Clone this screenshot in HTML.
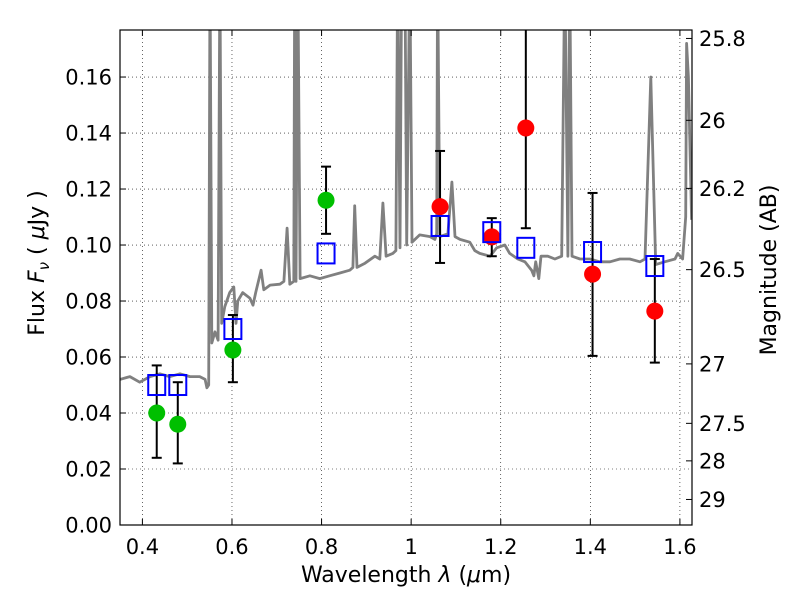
<!DOCTYPE html>
<html><head><meta charset="utf-8">
<style>
html,body{margin:0;padding:0;background:#fff;}
svg{display:block;font-family:"DejaVu Sans","Liberation Sans",sans-serif;}
</style></head>
<body>
<svg id="chart" width="800" height="600" viewBox="0 0 800 600" xmlns="http://www.w3.org/2000/svg"></svg>
<script>
// ---- data ----
const specWave=[0.35,0.372,0.394,0.417,0.439,0.461,0.484,0.506,0.528,0.540,0.544,0.548,0.551,0.555,0.562,0.569,0.573,0.577,0.584,0.595,0.604,0.609,0.613,0.624,0.640,0.647,0.653,0.665,0.671,0.685,0.707,0.716,0.723,0.729,0.738,0.740,0.743,0.747,0.752,0.774,0.796,0.818,0.841,0.863,0.870,0.874,0.879,0.897,0.919,0.930,0.937,0.944,0.959,0.966,0.970,0.975,0.979,0.986,0.990,0.997,1.002,1.019,1.042,1.053,1.057,1.059,1.064,1.082,1.091,1.098,1.109,1.131,1.142,1.153,1.176,1.191,1.209,1.220,1.238,1.254,1.269,1.274,1.278,1.285,1.290,1.305,1.321,1.336,1.343,1.350,1.354,1.359,1.377,1.399,1.421,1.444,1.466,1.488,1.511,1.522,1.535,1.546,1.566,1.589,1.595,1.606,1.613,1.615,1.619,1.626];
const specFlux=[0.052,0.053,0.051,0.053,0.054,0.053,0.054,0.053,0.053,0.052,0.049,0.050,0.2,0.065,0.069,0.066,0.2,0.072,0.078,0.083,0.085,0.072,0.080,0.083,0.081,0.0785,0.083,0.091,0.084,0.0857,0.086,0.087,0.106,0.086,0.087,0.2,0.087,0.2,0.088,0.089,0.088,0.089,0.090,0.091,0.092,0.114,0.092,0.0935,0.096,0.095,0.115,0.096,0.097,0.098,0.2,0.099,0.2,0.2,0.100,0.2,0.101,0.1036,0.103,0.102,0.104,0.2,0.103,0.104,0.1225,0.103,0.102,0.101,0.098,0.097,0.096,0.099,0.100,0.097,0.095,0.094,0.091,0.089,0.094,0.088,0.096,0.096,0.095,0.096,0.2,0.096,0.2,0.096,0.095,0.095,0.094,0.094,0.095,0.095,0.094,0.095,0.16,0.093,0.094,0.095,0.097,0.095,0.11,0.172,0.16,0.109];
const greenWave=[0.432,0.479,0.602,0.81];
const greenFlux=[0.040,0.036,0.0625,0.116];
const greenLo=[0.024,0.022,0.051,0.104];
const greenHi=[0.057,0.051,0.075,0.128];
const redWave=[1.0645,1.18,1.256,1.405,1.544];
const redFlux=[0.1137,0.1029,0.1418,0.0896,0.0764];
const redLo=[0.0936,0.096,0.106,0.0604,0.058];
const redHi=[0.1336,0.1096,0.19,0.1186,0.095];
const modelWave=[0.432,0.479,0.602,0.81,1.0645,1.18,1.256,1.405,1.544];
const modelFlux=[0.050,0.050,0.070,0.097,0.1068,0.1046,0.099,0.0975,0.0925];
const xTicks=[0.4,0.6,0.8,1.0,1.2,1.4,1.6];
const xTickLabels=["0.4","0.6","0.8","1","1.2","1.4","1.6"];
const yTicks=[0,0.02,0.04,0.06,0.08,0.10,0.12,0.14,0.16];
const yTickLabels=["0.00","0.02","0.04","0.06","0.08","0.10","0.12","0.14","0.16"];
const magTicks=[25.8,26,26.2,26.5,27,27.5,28,29];
const magTickLabels=["25.8","26","26.2","26.5","27","27.5","28","29"];

// ---- layout ----
const L=120,R=692,T=30,B=525;
const xMin=0.35,xMax=1.627,yMin=0,yMax=0.1768;
const X=v=>L+(v-xMin)/(xMax-xMin)*(R-L);
const Y=v=>B-(v-yMin)/(yMax-yMin)*(B-T);
const magToFlux=m=>Math.pow(10,(23.9-m)/2.5);
const NS="http://www.w3.org/2000/svg";
const svg=document.getElementById('chart');
function mk(tag,attrs,parent){const e=document.createElementNS(NS,tag);for(const k in attrs)e.setAttribute(k,attrs[k]);(parent||svg).appendChild(e);return e;}

const defs=mk('defs',{});
const cp=mk('clipPath',{id:'clip'},defs);
mk('rect',{x:L,y:T,width:R-L,height:B-T},cp);

// grid
const grid=mk('g',{});


xTicks.forEach(v=>{mk('line',{x1:X(v),x2:X(v),y1:T,y2:B,stroke:'#000','stroke-width':0.6,'stroke-dasharray':'1,3'},grid);});
yTicks.forEach(v=>{mk('line',{x1:L,x2:R,y1:Y(v),y2:Y(v),stroke:'#000','stroke-width':0.6,'stroke-dasharray':'1,3'},grid);});

const plot=mk('g',{'clip-path':'url(#clip)'});
// spectrum
let d='';
specWave.forEach((w,i)=>{d+=(i?'L':'M')+X(w).toFixed(1)+','+Y(specFlux[i]).toFixed(1);});
const spec=mk('path',{d:d,fill:'none',stroke:'#808080','stroke-width':2.8,'stroke-linejoin':'round'},plot);



function errbar(w,lo,hi,name){
  const g=mk('g',{},plot);
  
  
  const x=X(w);
  mk('line',{x1:x,x2:x,y1:Y(lo),y2:Y(hi),stroke:'#000','stroke-width':2},g);
  mk('line',{x1:x-5,x2:x+5,y1:Y(lo),y2:Y(lo),stroke:'#000','stroke-width':2},g);
  mk('line',{x1:x-5,x2:x+5,y1:Y(hi),y2:Y(hi),stroke:'#000','stroke-width':2},g);
}
greenWave.forEach((w,i)=>errbar(w,greenLo[i],greenHi[i],'green-errorbar'));
redWave.forEach((w,i)=>errbar(w,redLo[i],redHi[i],'red-errorbar'));
greenWave.forEach((w,i)=>{
  const c=mk('circle',{cx:X(w),cy:Y(greenFlux[i]),r:8.5,fill:'#00bf00'},plot);
  
  
});
redWave.forEach((w,i)=>{
  const c=mk('circle',{cx:X(w),cy:Y(redFlux[i]),r:8.5,fill:'#ff0000'},plot);
  
  
});
modelWave.forEach((w,i)=>{
  const s=mk('rect',{x:X(w)-8.5,y:Y(modelFlux[i])-10,width:17,height:20,fill:'none',stroke:'#0000ff','stroke-width':2},plot);
  
  
});

// frame
const frame=mk('rect',{x:L,y:T,width:R-L,height:B-T,fill:'none',stroke:'#000','stroke-width':1.2});



// ticks and labels
const xt=mk('g',{});


xTicks.forEach((v,i)=>{
  mk('line',{x1:X(v),x2:X(v),y1:B,y2:B-6,stroke:'#000'},xt);
  mk('line',{x1:X(v),x2:X(v),y1:T,y2:T+6,stroke:'#000'},xt);
  const t=mk('text',{x:X(v),y:B+29,'font-size':21,'text-anchor':'middle'},xt);t.textContent=xTickLabels[i];
});
const yt=mk('g',{});


yTicks.forEach((v,i)=>{
  mk('line',{x1:L,x2:L+6,y1:Y(v),y2:Y(v),stroke:'#000'},yt);
  const t=mk('text',{x:L-8,y:Y(v)+7.5,'font-size':21,'text-anchor':'end'},yt);t.textContent=yTickLabels[i];
});
const mt=mk('g',{});


magTicks.forEach((m,i)=>{
  const y=Y(magToFlux(m));
  mk('line',{x1:R,x2:R-6,y1:y,y2:y,stroke:'#000'},mt);
  const t=mk('text',{x:R+7,y:y+7.5,'font-size':21,'text-anchor':'start'},mt);t.textContent=magTickLabels[i];
});
</script>
<svg style="position:absolute;left:0;top:0" width="800" height="600" xmlns="http://www.w3.org/2000/svg" font-family="DejaVu Sans, Liberation Sans, sans-serif">
<text x="406" y="582" font-size="22" text-anchor="middle">Wavelength  <tspan font-style="italic">λ</tspan> (<tspan font-style="italic">μ</tspan>m)</text>
<text transform="translate(44,263) rotate(-90)" font-size="22" text-anchor="middle">Flux  <tspan font-style="italic">F</tspan><tspan font-style="italic" font-size="15" dy="5">ν</tspan><tspan dy="-5">  ( </tspan><tspan font-style="italic">μ</tspan>Jy )</text>
<text transform="translate(776,270) rotate(-90)" font-size="22" text-anchor="middle">Magnitude (AB)</text>
</svg>
</body></html>
